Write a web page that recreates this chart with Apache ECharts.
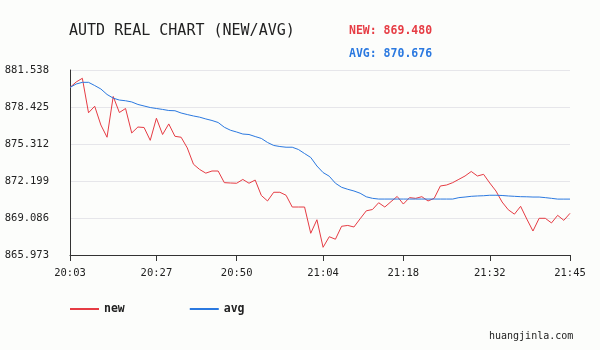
<!DOCTYPE html>
<html>
<head>
<meta charset="utf-8">
<title>AUTD REAL CHART</title>
<script src="https://cdn.jsdelivr.net/npm/echarts@6/dist/echarts.min.js"></script>
<style>
  html, body { margin: 0; padding: 0; background: #fcfdfb; }
  #chart { width: 600px; height: 350px; }
</style>
</head>
<body>
<div id="chart"></div>
<script>
// 时间（类目轴）
const times = [
  '20:03', '20:05', '20:07', '20:08', '20:10', '20:12', '20:13', '20:15', '20:17', '20:18',
  '20:20', '20:22', '20:24', '20:25', '20:27', '20:29', '20:30', '20:32', '20:34', '20:36',
  '20:37', '20:39', '20:41', '20:43', '20:45', '20:46', '20:48', '20:50', '20:51', '20:52',
  '20:53', '20:54', '20:55', '20:56', '20:57', '20:58', '20:59', '21:00', '21:01', '21:02',
  '21:03', '21:04', '21:05', '21:06', '21:07', '21:08', '21:09', '21:10', '21:12', '21:13',
  '21:14', '21:15', '21:16', '21:17', '21:18', '21:19', '21:20', '21:21', '21:22', '21:23',
  '21:24', '21:25', '21:26', '21:27', '21:28', '21:29', '21:30', '21:31', '21:32', '21:33',
  '21:34', '21:35', '21:36', '21:37', '21:38', '21:39', '21:40', '21:41', '21:42', '21:43',
  '21:44', '21:45'
];

// 显示刻度的位置
const labelIdx = [0, 14, 27, 41, 54, 68, 81];

// y轴刻度
const yTicks = [865.973, 869.086, 872.199, 875.312, 878.425, 881.538];

// 最新价
const newData = [
  880.07, 880.53, 880.84, 877.94, 878.49, 876.91, 875.88, 879.31, 877.96, 878.30,
  876.24, 876.74, 876.70, 875.62, 877.48, 876.11, 877.00, 875.96, 875.88, 874.98,
  873.61, 873.17, 872.86, 873.04, 873.04, 872.06, 872.03, 872.01, 872.33, 872.01,
  872.28, 870.98, 870.52, 871.25, 871.25, 871.00, 870.01, 870.01, 870.01, 867.80,
  868.94, 866.62, 867.51, 867.30, 868.39, 868.46, 868.33, 869.02, 869.69, 869.80,
  870.37, 870.01, 870.46, 870.90, 870.26, 870.80, 870.74, 870.88, 870.52, 870.74,
  871.78, 871.86, 872.06, 872.34, 872.62, 873.00, 872.62, 872.76, 872.03, 871.36,
  870.43, 869.78, 869.41, 870.07, 869.00, 867.99, 869.06, 869.06, 868.67, 869.31,
  868.89, 869.480
];

// 均价
const avgData = [
  880.07, 880.36, 880.50, 880.50, 880.23, 879.94, 879.48, 879.17, 879.01, 878.95,
  878.85, 878.64, 878.51, 878.38, 878.30, 878.22, 878.13, 878.11, 877.92, 877.79,
  877.67, 877.57, 877.42, 877.29, 877.12, 876.72, 876.47, 876.32, 876.15, 876.11,
  875.94, 875.78, 875.44, 875.19, 875.10, 875.04, 875.04, 874.85, 874.51, 874.18,
  873.46, 872.91, 872.60, 872.01, 871.67, 871.50, 871.36, 871.17, 870.87, 870.74,
  870.68, 870.68, 870.68, 870.68, 870.68, 870.68, 870.68, 870.68, 870.68, 870.68,
  870.68, 870.68, 870.68, 870.80, 870.85, 870.91, 870.94, 870.96, 871.00, 871.00,
  870.98, 870.94, 870.91, 870.88, 870.87, 870.85, 870.85, 870.80, 870.74, 870.676,
  870.676, 870.676
];

const RED = '#e63c44';
const BLUE = '#2b79e0';
const MONO = '"DejaVu Sans Mono", "Liberation Mono", monospace';

const chart = echarts.init(document.getElementById('chart'));

const showAt = (i) => labelIdx.indexOf(i) >= 0;

const option = {
  backgroundColor: '#fcfdfb',
  animation: false,
  title: [
    {
      text: 'AUTD REAL CHART (NEW/AVG)',
      left: 69, top: 24, padding: 0,
      textStyle: { fontFamily: MONO, fontSize: 15, fontWeight: 'normal', color: '#222' }
    },
    {
      text: 'NEW: ' + newData[newData.length - 1].toFixed(3),
      left: 349, top: 25, padding: 0,
      textStyle: { fontFamily: MONO, fontSize: 11.5, fontWeight: 'bold', color: RED }
    },
    {
      text: 'AVG: ' + avgData[avgData.length - 1].toFixed(3),
      left: 349, top: 48, padding: 0,
      textStyle: { fontFamily: MONO, fontSize: 11.5, fontWeight: 'bold', color: BLUE }
    }
  ],
  // 图例：只画一条细线
  legend: {
    left: 70, top: 303,
    icon: 'rect',
    itemWidth: 29, itemHeight: 2,
    itemGap: 65,
    padding: 0,
    textStyle: { fontFamily: MONO, fontSize: 11.5, fontWeight: 'bold', color: '#222' },
    data: ['new', 'avg']
  },
  grid: { left: 70, right: 30, top: 70, bottom: 95, containLabel: false },
  xAxis: {
    type: 'category',
    boundaryGap: false,
    data: times,
    axisLine: { lineStyle: { color: '#333', width: 1 } },
    axisTick: { show: true, interval: showAt, length: 6, lineStyle: { color: '#333' } },
    axisLabel: {
      interval: showAt,
      margin: 13,
      fontFamily: MONO, fontSize: 10.5, color: '#222'
    },
    splitLine: { show: false }
  },
  yAxis: {
    type: 'value',
    min: yTicks[0],
    max: yTicks[yTicks.length - 1],
    axisLine: { show: true, lineStyle: { color: '#333', width: 1 } },
    axisTick: { show: false, customValues: yTicks },
    axisLabel: {
      customValues: yTicks,
      margin: 21,
      fontFamily: MONO, fontSize: 10.5, color: '#222',
      formatter: (v) => v.toFixed(3)
    },
    splitLine: { show: true, lineStyle: { color: '#e6e6ea', width: 1 } }
  },
  series: [
    {
      name: 'new', type: 'line', data: newData,
      symbol: 'none',
      lineStyle: { color: RED, width: 1 },
      itemStyle: { color: RED }
    },
    {
      name: 'avg', type: 'line', data: avgData,
      symbol: 'none',
      lineStyle: { color: BLUE, width: 1 },
      itemStyle: { color: BLUE }
    }
  ],
  graphic: [
    {
      type: 'text', left: 489, top: 331,
      style: { text: 'huangjinla.com', font: '10px ' + MONO, fill: '#222' }
    }
  ]
};

chart.setOption(option);
</script>
</body>
</html>
